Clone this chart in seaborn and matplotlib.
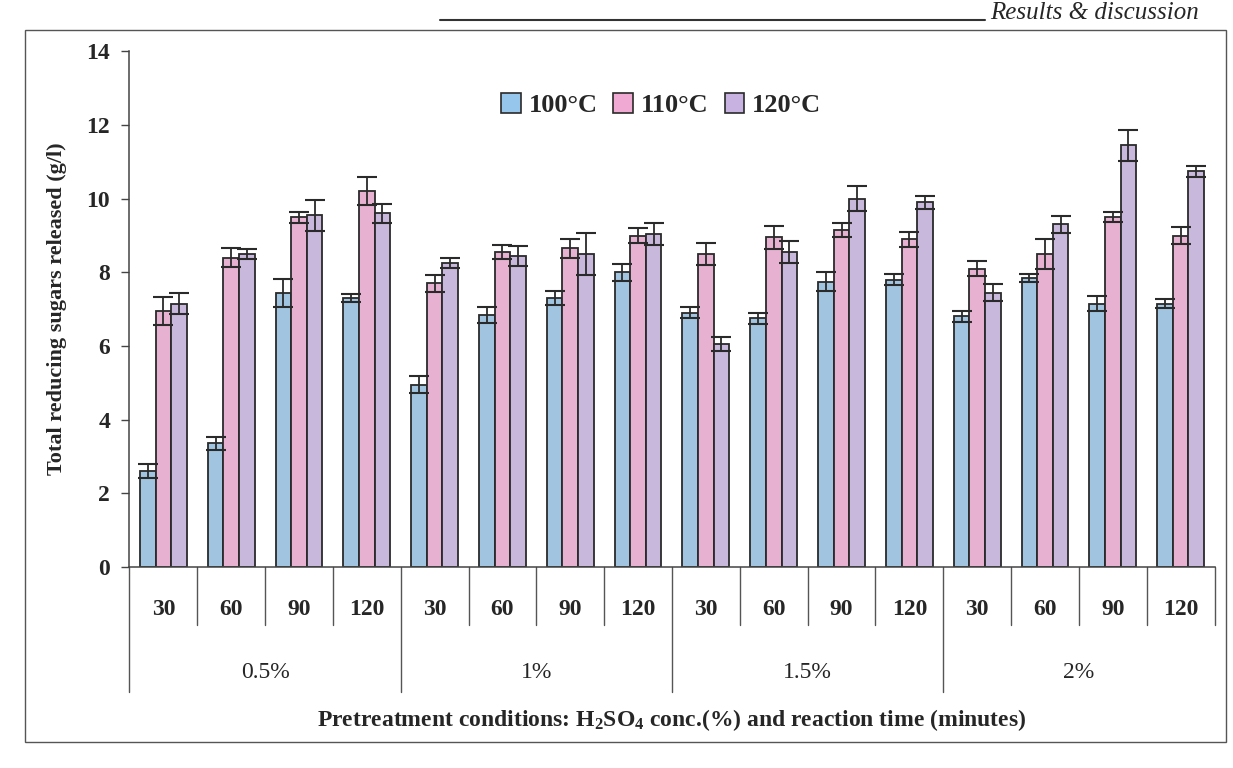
import numpy as np
import pandas as pd
import matplotlib
matplotlib.use("Agg")
import matplotlib.pyplot as plt
import matplotlib.transforms as mtransforms
from matplotlib.patches import Rectangle, Patch
import seaborn as sns

# ---- data ----
acid_levels = ["0.5%", "1%", "1.5%", "2%"]
times = ["30", "60", "90", "120"]
temps = ["100°C", "110°C", "120°C"]

sugar_100 = [2.6, 3.35, 7.45, 7.3, 4.95, 6.85, 7.3, 8.0, 6.9, 6.75, 7.75, 7.8, 6.8, 7.85, 7.15, 7.15]
sugar_110 = [6.95, 8.4, 9.5, 10.2, 7.7, 8.55, 8.65, 9.0, 8.5, 8.95, 9.15, 8.9, 8.1, 8.5, 9.5, 9.0]
sugar_120 = [7.15, 8.5, 9.55, 9.6, 8.25, 8.45, 8.5, 9.05, 6.05, 8.55, 10.0, 9.9, 7.45, 9.3, 11.45, 10.75]

err_100 = [0.2, 0.18, 0.38, 0.12, 0.22, 0.22, 0.2, 0.23, 0.15, 0.15, 0.25, 0.15, 0.16, 0.1, 0.2, 0.12]
err_110 = [0.38, 0.25, 0.15, 0.38, 0.23, 0.2, 0.25, 0.2, 0.3, 0.32, 0.2, 0.2, 0.2, 0.4, 0.14, 0.22]
err_120 = [0.28, 0.14, 0.42, 0.25, 0.14, 0.27, 0.56, 0.3, 0.2, 0.3, 0.34, 0.17, 0.22, 0.22, 0.42, 0.15]

y_ticks = [0, 2, 4, 6, 8, 10, 12, 14]

colors = ["#96C6EC", "#F0A9D2", "#C7B2E2"]

# ---- build long table ----
cats = [f"{a}-{t}" for a in acid_levels for t in times]
rows = []
for temp, vals in zip(temps, [sugar_100, sugar_110, sugar_120]):
    for c, v in zip(cats, vals):
        rows.append({"cond": c, "temp": temp, "sugar": v})
df = pd.DataFrame(rows)
errs = [err_100, err_110, err_120]

sns.set_style("white")
plt.rcParams["font.family"] = ["Liberation Serif", "DejaVu Serif"]
plt.rcParams["mathtext.fontset"] = "custom"
plt.rcParams["mathtext.rm"] = "Liberation Serif:bold"
plt.rcParams["mathtext.it"] = "Liberation Serif:bold"
plt.rcParams["mathtext.bf"] = "Liberation Serif:bold"

fig = plt.figure(figsize=(12.33, 7.68), dpi=100)
ax = fig.add_axes([0.105, 0.262, 0.880, 0.671])

sns.barplot(data=df, x="cond", y="sugar", hue="temp", order=cats, hue_order=temps,
            palette=colors, width=0.69, errorbar=None, edgecolor="#2a2a2a",
            linewidth=1.3, ax=ax, legend=False)

for cont, e in zip(ax.containers, errs):
    xs = [b.get_x() + b.get_width() / 2 for b in cont]
    hs = [b.get_height() for b in cont]
    ax.errorbar(xs, hs, yerr=e, fmt="none", ecolor="#2a2a2a", elinewidth=1.3,
                capsize=7, capthick=1.5, zorder=5)

ax.set_xlim(-0.5, len(cats) - 0.5)
ax.set_ylim(0, 14)
ax.set_yticks(y_ticks)
ax.set_yticklabels([str(v) for v in y_ticks], fontsize=17, fontweight="bold")
ax.tick_params(axis="y", direction="out", length=6, width=1, color="#444444", left=True, pad=8)
ax.set_xticks([])
ax.set_xlabel("")
ax.set_ylabel("Total reducing sugars released (g/l)", fontsize=16, fontweight="bold", labelpad=14)
for s in ["top", "right"]:
    ax.spines[s].set_visible(False)
for s in ["left", "bottom"]:
    ax.spines[s].set_color("#444444")
    ax.spines[s].set_linewidth(1.1)

# ---- category table below the axis ----
trans = mtransforms.blended_transform_factory(ax.transData, ax.transAxes)
n = len(cats)
for i in range(n + 1):
    xpos = i - 0.5
    ybot = -0.243 if (i % 4 == 0 and i != n) else -0.113
    ax.plot([xpos, xpos], [0, ybot], transform=trans, color="#555555", lw=1.0, clip_on=False)
for i, c in enumerate(cats):
    ax.text(i, -0.083, c.split("-")[1], transform=trans, ha="center", va="center",
            fontsize=17, fontweight="bold")
for g, a in enumerate(acid_levels):
    ax.text(g * 4 + 1.5, -0.205, a, transform=trans, ha="center", va="center", fontsize=17)
ax.text(0.5, -0.297,
        "Pretreatment conditions: H$_{2}$SO$_{4}$ conc.(%) and reaction time (minutes)",
        transform=ax.transAxes, ha="center", va="center", fontsize=17, fontweight="bold")

# ---- legend ----
handles = [Patch(facecolor=col, edgecolor="#2a2a2a", linewidth=1.2) for col in colors]
leg = ax.legend(handles, temps, loc="upper center", bbox_to_anchor=(0.49, 0.965), ncol=3,
                frameon=False, handlelength=0.75, handleheight=0.75,
                handletextpad=0.3, columnspacing=0.6,
                prop={"weight": "bold", "size": 19})

# ---- page frame and header ----
fig.patches.append(Rectangle((25 / 1233, 1 - 742 / 768), (1226 - 25) / 1233, (742 - 30) / 768,
                             transform=fig.transFigure, fill=False, edgecolor="#555555",
                             lw=1.0, zorder=0))
fig.add_artist(plt.Line2D([440 / 1233, 985 / 1233], [1 - 20 / 768, 1 - 20 / 768],
                          transform=fig.transFigure, color="#333333", lw=1.5))
fig.text(990 / 1233, 1 - 19 / 768, "Results & discussion", ha="left", va="baseline",
         fontsize=18, style="italic")

fig.savefig("out.png", dpi=100)
